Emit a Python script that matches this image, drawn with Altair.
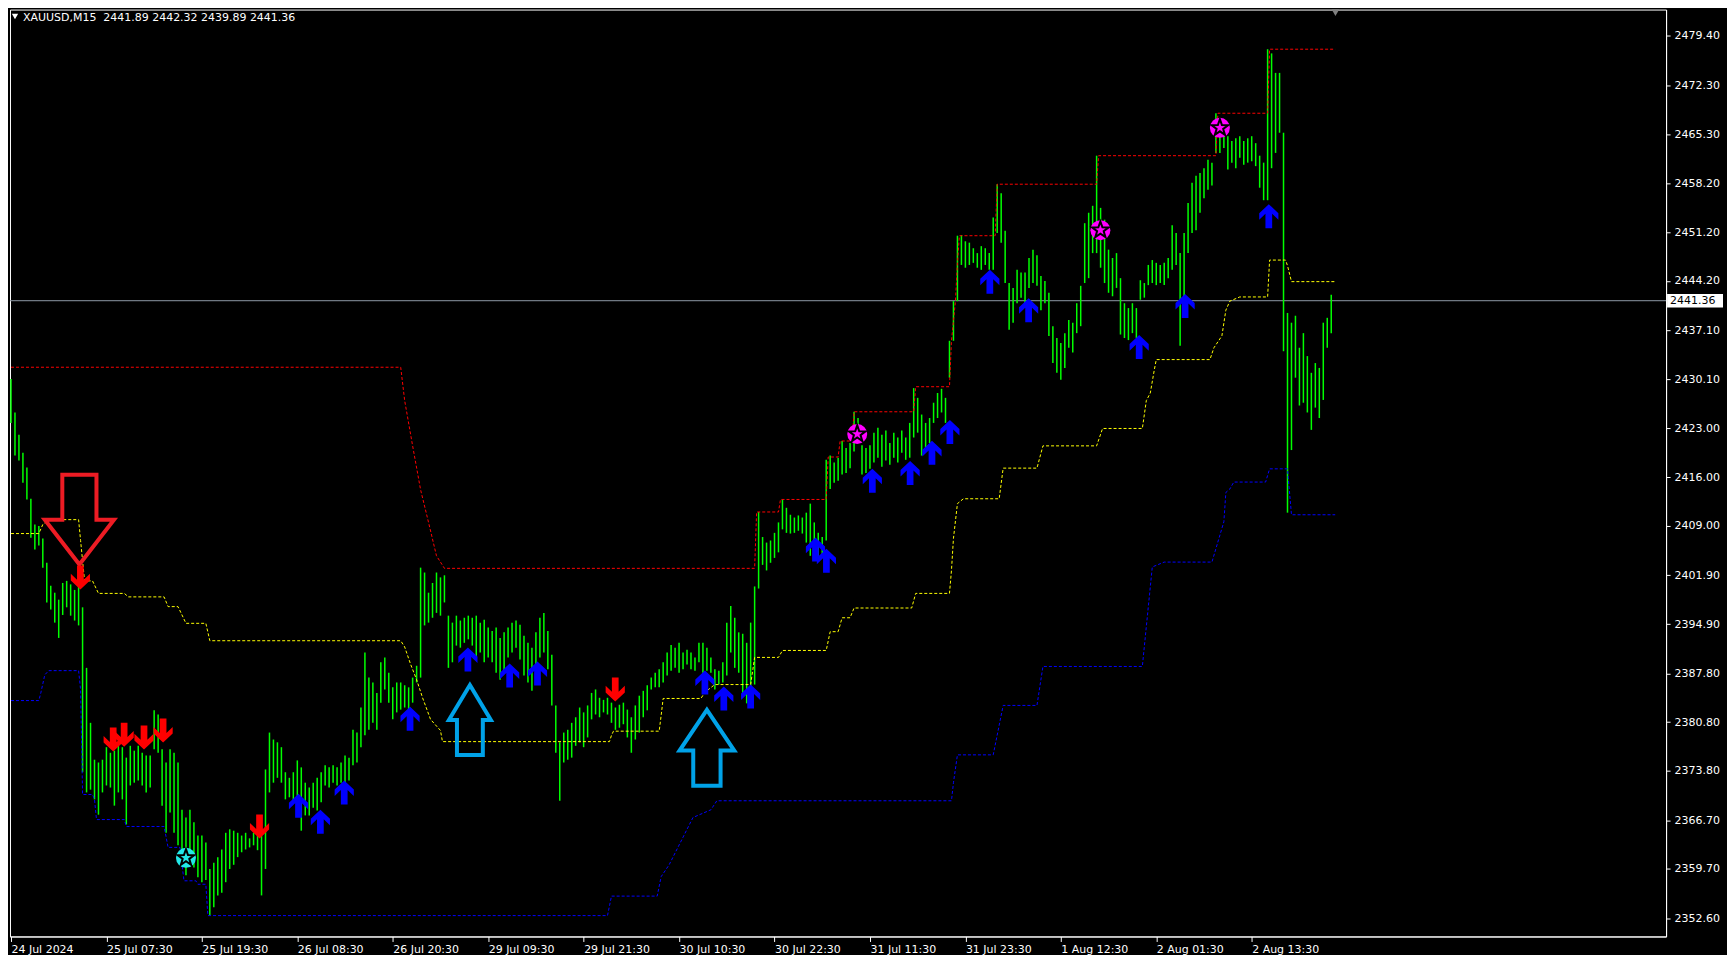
import altair as alt
import pandas as pd

# ---------------- data ----------------
title_text = "XAUUSD,M15\u00a0\u00a02441.89 2442.32 2439.89 2441.36"
last_price = 2441.36

x_ticks = [0, 48, 96, 144, 192, 240, 288, 336, 384, 432, 480, 528, 576, 624]
x_labels = ["24 Jul 2024", "25 Jul 07:30", "25 Jul 19:30", "26 Jul 08:30", "26 Jul 20:30",
            "29 Jul 09:30", "29 Jul 21:30", "30 Jul 10:30", "30 Jul 22:30", "31 Jul 11:30",
            "31 Jul 23:30", "1 Aug 12:30", "2 Aug 01:30", "2 Aug 13:30"]
y_ticks = [2352.60, 2359.70, 2366.70, 2373.80, 2380.80, 2387.80, 2394.90, 2401.90, 2409.00,
           2416.00, 2423.00, 2430.10, 2437.10, 2444.20, 2451.20, 2458.20, 2465.30, 2472.30, 2479.40]

# price bars (every second M15 bar): index, high, low
bar_idx = list(range(0, 666, 2))
bar_high = [
    2430.1, 2425.3, 2422.1, 2419.5, 2417.4, 2412.9, 2409.2, 2409.0, 2407.2, 2403.7,
    2400.4, 2399.4, 2398.4, 2400.8, 2401.1, 2400.6, 2399.8, 2401.6, 2397.3, 2388.6,
    2380.7, 2375.4, 2375.0, 2375.4, 2377.2, 2376.4, 2376.7, 2377.4, 2377.2, 2375.7,
    2377.4, 2376.7, 2377.4, 2376.4, 2376.0, 2376.0, 2382.5, 2381.9, 2376.9, 2375.0,
    2376.9, 2376.4, 2375.0, 2368.2, 2367.1, 2368.2, 2366.4, 2364.5, 2364.5, 2363.5,
    2359.7, 2360.6, 2361.4, 2362.5, 2364.9, 2365.4, 2365.2, 2364.9, 2364.5, 2364.9,
    2364.1, 2364.9, 2364.6, 2364.5, 2374.0, 2379.3, 2378.3, 2377.9, 2377.2, 2373.6,
    2372.8, 2373.6, 2375.3, 2374.3, 2372.1, 2371.4, 2372.1, 2372.8, 2373.6, 2374.6,
    2374.3, 2374.6, 2374.3, 2375.0, 2376.0, 2375.7, 2379.7, 2379.3, 2382.9, 2390.8,
    2387.2, 2386.5, 2385.0, 2389.4, 2390.1, 2387.9, 2385.8, 2386.5, 2386.5, 2386.1,
    2385.8, 2387.2, 2388.9, 2403.0, 2402.3, 2399.4, 2400.8, 2402.3, 2401.6, 2401.9,
    2396.1, 2395.1, 2396.1, 2395.4, 2395.8, 2396.1, 2395.8, 2396.1, 2395.1, 2395.5,
    2394.4, 2393.9, 2394.4, 2392.9, 2393.7, 2394.4, 2395.1, 2395.4, 2394.8, 2393.2,
    2392.2, 2391.5, 2393.7, 2395.8, 2396.5, 2393.9, 2390.5, 2383.2, 2377.9, 2379.3,
    2379.7, 2380.7, 2381.5, 2382.9, 2382.2, 2383.2, 2385.0, 2385.5, 2384.3, 2384.0,
    2384.3, 2383.6, 2382.9, 2383.3, 2383.6, 2382.6, 2381.5, 2383.2, 2384.6, 2385.3,
    2386.1, 2387.2, 2387.9, 2388.4, 2389.4, 2390.8, 2391.9, 2391.5, 2392.2, 2390.8,
    2391.2, 2390.8, 2390.1, 2392.2, 2392.2, 2391.5, 2390.1, 2388.4, 2388.2, 2389.4,
    2395.1, 2397.5, 2395.8, 2393.7, 2393.5, 2392.2, 2395.1, 2400.3, 2411.0, 2407.4,
    2406.6, 2406.9, 2408.0, 2409.5, 2412.8, 2411.6, 2410.6, 2410.2, 2410.5, 2410.2,
    2410.9, 2412.2, 2409.5, 2408.0, 2407.4, 2418.5, 2419.1, 2418.1, 2418.8, 2421.2,
    2420.2, 2420.9, 2425.4, 2424.5, 2420.6, 2420.2, 2420.6, 2422.4, 2423.1, 2422.1,
    2422.7, 2420.9, 2422.4, 2421.7, 2422.7, 2421.7, 2423.8, 2428.8, 2427.4, 2425.0,
    2423.8, 2424.5, 2426.7, 2428.1, 2428.7, 2427.4, 2435.6, 2441.3, 2450.7, 2450.8,
    2449.9, 2449.7, 2448.9, 2448.2, 2449.2, 2448.9, 2448.2, 2453.3, 2458.1, 2456.8,
    2451.4, 2443.9, 2443.2, 2445.8, 2445.4, 2445.4, 2447.5, 2448.7, 2447.9, 2444.9,
    2444.2, 2442.5, 2437.7, 2436.0, 2435.3, 2436.7, 2438.6, 2438.2, 2441.0, 2443.5,
    2452.5, 2454.0, 2455.0, 2462.2, 2454.7, 2453.0, 2448.7, 2447.5, 2448.2, 2444.6,
    2441.0, 2440.3, 2441.0, 2440.3, 2444.3, 2443.9, 2446.5, 2447.2, 2446.8, 2446.5,
    2446.8, 2447.5, 2452.2, 2451.1, 2448.2, 2451.1, 2455.4, 2458.3, 2459.3, 2459.7,
    2460.4, 2461.6, 2461.2, 2468.3, 2467.2, 2466.9, 2465.0, 2464.3, 2464.7, 2465.0,
    2464.3, 2464.7, 2465.0, 2464.0, 2462.2, 2461.2, 2477.5, 2476.9, 2474.1, 2474.1,
    2465.5, 2439.6, 2438.2, 2439.2, 2434.6, 2436.7, 2433.4, 2431.0, 2432.4, 2431.7,
    2438.2, 2438.9, 2442.2,
]
bar_low = [
    2423.8, 2419.1, 2418.4, 2415.2, 2412.8, 2407.3, 2405.6, 2406.2, 2403.0, 2398.0,
    2397.0, 2395.1, 2392.9, 2396.2, 2397.3, 2396.1, 2395.4, 2394.7, 2373.6, 2370.7,
    2371.1, 2369.7, 2367.5, 2370.7, 2371.7, 2371.4, 2368.8, 2370.7, 2369.7, 2366.1,
    2371.7, 2372.1, 2372.4, 2371.7, 2370.7, 2371.4, 2376.9, 2376.4, 2368.8, 2364.9,
    2367.8, 2364.9, 2363.1, 2362.1, 2358.8, 2360.6, 2359.9, 2358.5, 2357.8, 2358.1,
    2353.0, 2354.2, 2355.9, 2356.3, 2357.8, 2359.7, 2360.3, 2361.4, 2362.1, 2362.5,
    2362.8, 2363.1, 2362.4, 2355.9, 2359.7, 2370.7, 2372.1, 2372.8, 2372.1, 2369.7,
    2370.0, 2369.3, 2368.2, 2365.2, 2367.4, 2367.4, 2368.5, 2368.1, 2369.3, 2371.7,
    2371.4, 2372.1, 2371.7, 2372.1, 2371.7, 2372.4, 2374.6, 2375.0, 2377.2, 2378.9,
    2379.7, 2380.7, 2379.7, 2383.6, 2385.5, 2383.6, 2381.2, 2382.2, 2382.6, 2382.9,
    2382.6, 2383.6, 2386.5, 2387.2, 2394.7, 2395.1, 2395.8, 2396.5, 2396.1, 2398.0,
    2388.6, 2389.4, 2391.8, 2391.5, 2392.2, 2392.7, 2391.8, 2389.8, 2390.8, 2389.4,
    2390.1, 2389.4, 2387.9, 2386.9, 2387.9, 2390.1, 2390.8, 2391.5, 2389.8, 2387.5,
    2386.5, 2385.3, 2388.6, 2390.1, 2390.8, 2388.4, 2383.2, 2376.4, 2369.5, 2375.0,
    2375.4, 2375.7, 2377.4, 2377.9, 2377.2, 2378.6, 2381.2, 2381.9, 2381.5, 2382.2,
    2381.9, 2380.7, 2379.7, 2380.0, 2380.5, 2378.6, 2376.4, 2378.3, 2379.3, 2381.5,
    2382.5, 2385.5, 2385.8, 2385.8, 2386.5, 2387.5, 2388.2, 2388.6, 2387.9, 2388.4,
    2389.1, 2388.4, 2388.2, 2389.4, 2387.9, 2388.2, 2387.9, 2385.5, 2386.2, 2386.5,
    2387.5, 2390.8, 2388.6, 2387.9, 2385.0, 2383.5, 2385.0, 2386.2, 2400.0, 2403.4,
    2402.6, 2403.7, 2404.4, 2405.2, 2408.5, 2408.0, 2407.9, 2408.0, 2408.3, 2407.9,
    2406.6, 2404.7, 2405.9, 2404.7, 2404.4, 2406.9, 2414.3, 2415.2, 2415.5, 2416.4,
    2416.6, 2417.3, 2419.7, 2420.9, 2416.4, 2416.6, 2417.2, 2418.1, 2418.8, 2417.5,
    2418.4, 2417.8, 2418.8, 2418.1, 2419.5, 2418.5, 2418.8, 2421.7, 2422.4, 2419.1,
    2420.2, 2420.9, 2423.8, 2424.5, 2425.3, 2423.8, 2430.3, 2435.6, 2441.3, 2446.5,
    2446.1, 2446.5, 2446.8, 2446.1, 2445.8, 2446.5, 2445.8, 2445.8, 2451.1, 2449.7,
    2443.9, 2437.2, 2438.2, 2441.0, 2441.8, 2441.0, 2443.2, 2443.9, 2443.5, 2440.0,
    2441.0, 2436.3, 2432.4, 2431.0, 2430.0, 2431.7, 2434.6, 2433.9, 2436.7, 2437.7,
    2443.9, 2444.6, 2448.2, 2448.2, 2446.1, 2443.9, 2442.5, 2442.0, 2443.2, 2436.5,
    2436.0, 2435.7, 2436.7, 2436.0, 2441.5, 2441.8, 2443.6, 2443.9, 2443.6, 2443.9,
    2443.6, 2444.6, 2445.8, 2446.5, 2434.9, 2441.0, 2448.2, 2451.1, 2451.5, 2454.0,
    2456.1, 2457.3, 2457.9, 2462.6, 2462.6, 2463.3, 2460.2, 2461.2, 2460.4, 2461.9,
    2460.9, 2461.2, 2461.4, 2460.7, 2457.6, 2455.8, 2455.8, 2460.4, 2462.6, 2465.5,
    2434.1, 2410.9, 2419.9, 2430.3, 2426.3, 2426.7, 2425.3, 2422.8, 2426.0, 2424.5,
    2427.1, 2434.6, 2436.7,
]

# channel lines (bar index, price)
red_i = [0, 196, 198, 202, 206, 210, 214, 218, 374, 375, 386, 387, 410, 411, 416, 417, 423, 424,
         454, 455, 472, 473, 475, 476, 477, 495, 496, 546, 547, 606, 607, 632, 633, 666]
red_v = [2431.8, 2431.8, 2427.0, 2420.5, 2414.2, 2409.5, 2404.7, 2402.9, 2402.9, 2411.0, 2411.0,
         2412.8, 2412.8, 2418.9, 2418.9, 2421.2, 2421.2, 2425.4, 2425.4, 2429.0, 2429.0, 2435.6,
         2441.3, 2446.8, 2450.7, 2450.7, 2458.1, 2458.1, 2462.2, 2462.2, 2468.3, 2468.3, 2477.5, 2477.5]
yel_i = [0, 14, 16, 19, 34, 35, 37, 41, 44, 57, 59, 77, 79, 84, 88, 98, 100, 196, 198, 201,
         204, 207, 211, 216, 217, 301, 302, 303, 326, 327, 328, 347, 349, 354, 372, 374, 386, 388, 410, 412,
         416, 418, 422, 424, 453, 455, 472, 473, 474, 476, 479, 497, 499, 516, 519, 546, 549, 569, 571, 573,
         575, 576, 603, 605, 609, 611, 613, 618, 632, 633, 641, 642, 644, 666]
yel_v = [2407.9, 2407.9, 2409.2, 2409.9, 2409.9, 2406.9, 2401.1, 2401.1, 2399.3, 2399.3,
         2398.8, 2398.8, 2397.4, 2397.4, 2395.0, 2395.0, 2392.5, 2392.5, 2391.6, 2389.1,
         2386.9, 2384.3, 2381.2, 2379.6, 2378.0, 2378.0, 2378.9, 2379.5, 2379.5, 2381.8,
         2384.2, 2384.2, 2385.1, 2386.2, 2386.2, 2390.1, 2390.1, 2391.1, 2391.1, 2393.8,
         2393.8, 2395.8, 2395.8, 2397.2, 2397.2, 2399.3, 2399.3, 2402.6, 2407.2, 2412.2,
         2412.9, 2412.9, 2417.3, 2417.3, 2420.5, 2420.5, 2423.0, 2423.0, 2427.0, 2428.1,
         2431.4, 2432.9, 2432.9, 2434.6, 2436.3, 2440.0, 2441.3, 2441.9, 2441.9, 2447.2,
         2447.2, 2446.4, 2444.1, 2444.1]
blu_i = [0, 14, 15, 17, 19, 34, 35, 36, 41, 42, 43, 57, 58, 77, 79, 85, 87, 93, 94, 98,
         99, 300, 302, 325, 327, 331, 343, 352, 355, 473, 474, 476, 494, 499, 516, 519, 569, 574, 580, 604,
         610, 611, 613, 615, 631, 633, 642, 644, 666]
blu_v = [2383.9, 2383.9, 2385.0, 2387.6, 2388.2, 2388.2, 2385.5, 2370.4, 2370.4, 2369.7,
         2366.8, 2366.8, 2365.8, 2365.8, 2362.8, 2362.8, 2358.0, 2358.0, 2357.5, 2357.5,
         2353.0, 2353.0, 2355.8, 2355.8, 2358.6, 2360.3, 2367.1, 2368.2, 2369.5, 2369.5,
         2372.1, 2376.1, 2376.1, 2383.2, 2383.2, 2388.8, 2388.8, 2403.1, 2403.8, 2403.8,
         2409.6, 2413.8, 2414.3, 2415.3, 2415.3, 2417.2, 2417.2, 2410.6, 2410.6]

# signal arrows
up_i = [144.6, 155.6, 167.6, 200.7, 229.8, 250.8, 264.8, 349.0, 358.5, 372.0, 404.6,
        410.1, 433.2, 452.2, 463.2, 472.2, 492.3, 511.8, 567.4, 590.5, 632.6]
up_p = [2368.8, 2366.5, 2370.7, 2381.3, 2389.8, 2387.5, 2387.8, 2386.5, 2384.2, 2384.5, 2405.6,
        2404.0, 2415.5, 2416.6, 2419.5, 2422.5, 2444.1, 2440.0, 2434.7, 2440.6, 2453.5]
down_i = [34.9, 51.4, 56.9, 66.9, 76.5, 125.0, 303.9]
down_p = [2401.6, 2378.3, 2379.0, 2378.6, 2379.6, 2365.8, 2385.5]

# star signals
mag_i = [425.6, 547.9, 608.0]
mag_p = [2422.2, 2451.5, 2466.2]
cyan_i = [88.0]
cyan_p = [2361.3]

# hand-drawn hollow arrows
big_red_i = [34.4]
big_red_p = [2409.9]
big_blue1_i = [230.8]
big_blue1_p = [2381.1]
big_blue2_i = [350.0]
big_blue2_p = [2377.1]

# ---------------- shapes ----------------
UP = "M0,-1 L0.8,-0.25 L0.8,0.3 L0.28,-0.2 L0.28,1 L-0.28,1 L-0.28,-0.2 L-0.8,0.3 L-0.8,-0.25 Z"
DOWN = "M0,1 L0.8,0.25 L0.8,-0.3 L0.28,0.2 L0.28,-1 L-0.28,-1 L-0.28,0.2 L-0.8,-0.3 L-0.8,0.25 Z"
STAR = ("M0,-1 L0.235,-0.324 L0.951,-0.309 L0.38,0.124 L0.588,0.809 L0,0.4 "
        "L-0.588,0.809 L-0.38,0.124 L-0.951,-0.309 L-0.235,-0.324 Z")
BIG_DOWN = "M-0.38,-1 L0.38,-1 L0.38,0 L0.77,0 L0,1 L-0.77,0 L-0.38,0 Z"
BIG_UP1 = "M0,-1 L0.6,0 L0.37,0 L0.37,1 L-0.37,1 L-0.37,0 L-0.6,0 Z"
BIG_UP2 = "M0,-1 L0.72,0.07 L0.36,0.07 L0.36,1 L-0.36,1 L-0.36,0.07 L-0.72,0.07 Z"
TAG = "M-1,-0.24 L1,-0.24 L1,0.24 L-1,0.24 Z"

W, H = 1658, 928
FONT = "DejaVu Sans"

label_expr = "[" + ",".join("'%s'" % s for s in x_labels) + "][round(datum.value/48)]"

x_scale = alt.Scale(domain=[-0.5, 832.4], nice=False, zero=False)
y_scale = alt.Scale(domain=[2350.0, 2483.2], nice=False, zero=False)
x_axis = alt.Axis(values=x_ticks, labelExpr=label_expr, labelAlign="left", labelColor="#FFFFFF",
                  labelFont=FONT, labelFontSize=11, labelPadding=2, tickColor="#FFFFFF", tickSize=5,
                  domainColor="#FFFFFF", grid=False, labelFlush=False, labelOverlap=False, title=None)
y_axis = alt.Axis(orient="right", values=y_ticks, format=".2f", labelColor="#FFFFFF", labelFont=FONT,
                  labelFontSize=11, tickColor="#FFFFFF", tickSize=4, labelPadding=4,
                  domainColor="#FFFFFF", grid=False, labelOverlap=False, title=None)


def X(field):
    return alt.X(field + ":Q", scale=x_scale, axis=x_axis)


def Y(field):
    return alt.Y(field + ":Q", scale=y_scale, axis=y_axis)


bars_df = pd.DataFrame({"i": bar_idx, "hi": bar_high, "lo": bar_low})
price_df = pd.DataFrame({"p": [last_price], "t": [f"{last_price:.2f}"]})

layers = []

layers.append(alt.Chart(price_df).mark_rule(color="#8E9AA6", strokeWidth=1).encode(y=Y("p")))

layers.append(alt.Chart(bars_df).mark_rule(color="#00FF00", strokeWidth=1.5).encode(
    x=X("i"), y=Y("hi"), y2="lo"))

for li, lv, col in [(red_i, red_v, "#FF0000"), (yel_i, yel_v, "#FFFF00"), (blu_i, blu_v, "#0000FF")]:
    layers.append(alt.Chart(pd.DataFrame({"i": li, "p": lv})).mark_line(
        color=col, strokeWidth=1, strokeDash=[3, 2]).encode(x=X("i"), y=Y("p")))

for ii, pp, shp, sz, col in [(big_red_i, big_red_p, BIG_DOWN, 8100, "#ED1C24"),
                             (big_blue1_i, big_blue1_p, BIG_UP1, 4900, "#00A2E8"),
                             (big_blue2_i, big_blue2_p, BIG_UP2, 5776, "#00A2E8")]:
    layers.append(alt.Chart(pd.DataFrame({"i": ii, "p": pp})).mark_point(
        shape=shp, size=sz, filled=False, stroke=col, strokeWidth=4, opacity=1,
        strokeJoin="miter").encode(x=X("i"), y=Y("p")))

layers.append(alt.Chart(pd.DataFrame({"i": up_i, "p": up_p})).mark_point(
    shape=UP, size=576, filled=True, fill="#0000FF", opacity=1, strokeWidth=0).encode(x=X("i"), y=Y("p")))
layers.append(alt.Chart(pd.DataFrame({"i": down_i, "p": down_p})).mark_point(
    shape=DOWN, size=576, filled=True, fill="#FF0000", opacity=1, strokeWidth=0).encode(x=X("i"), y=Y("p")))

for ii, pp, col in [(mag_i, mag_p, "#FF00FF"), (cyan_i, cyan_p, "#22E8E8")]:
    d = pd.DataFrame({"i": ii, "p": pp})
    layers.append(alt.Chart(d).mark_point(shape="circle", size=400, filled=True, fill=col,
                                          opacity=1, strokeWidth=0).encode(x=X("i"), y=Y("p")))
    layers.append(alt.Chart(d).mark_point(shape=STAR, size=300, filled=False, stroke="#000000",
                                          strokeWidth=2, opacity=1).encode(x=X("i"), y=Y("p")))

# price tag on the right axis
layers.append(alt.Chart(price_df).mark_point(shape=TAG, size=56 * 56, filled=True, fill="#FFFFFF",
                                             opacity=1, strokeWidth=0).encode(
    x=alt.value(W + 29), y=Y("p")))
layers.append(alt.Chart(price_df).mark_text(align="left", baseline="middle", color="#000000",
                                            font=FONT, fontSize=11).encode(
    x=alt.value(W + 4), y=Y("p"), text="t:N"))

# symbol caption
layers.append(alt.Chart(pd.DataFrame({"t": [title_text]})).mark_text(
    align="left", baseline="middle", color="#FFFFFF", font=FONT, fontSize=11).encode(
    x=alt.value(13), y=alt.value(8), text="t:N"))
layers.append(alt.Chart(pd.DataFrame({"t": [title_text]})).mark_point(
    shape="triangle-down", size=40, filled=True, fill="#FFFFFF", opacity=1, strokeWidth=0).encode(
    x=alt.value(5), y=alt.value(7)))
layers.append(alt.Chart(pd.DataFrame({"t": [title_text]})).mark_point(
    shape="triangle-down", size=60, filled=True, fill="#808080", opacity=1, strokeWidth=0).encode(
    x=alt.value(1327), y=alt.value(3)))

chart = alt.layer(*layers).properties(
    width=W, height=H, background="#000000",
    padding={"left": 0, "top": 0, "right": 4, "bottom": 0},
).configure_view(stroke="#FFFFFF", strokeWidth=1)

chart.save("out.html", embed_options={"renderer": "svg", "actions": False})
